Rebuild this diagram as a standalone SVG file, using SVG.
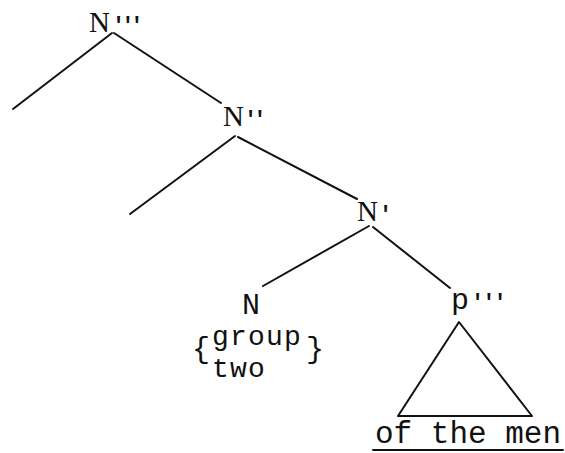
<svg xmlns="http://www.w3.org/2000/svg" width="565" height="453" viewBox="0 0 565 453">
<style>
.ser{font-family:"Liberation Serif","Times New Roman",serif;font-size:29px;fill:#111}
.mono{font-family:"Liberation Mono","Courier New",monospace;font-size:30px;fill:#111}
.sm{font-size:28px;letter-spacing:1.2px}
.pr{font-family:"Liberation Mono","Courier New",monospace;font-size:22px;font-weight:bold;fill:#111}
.ln{stroke:#111;stroke-width:2;fill:none;stroke-linecap:round;stroke-linejoin:round}
</style>
<rect width="565" height="453" fill="#fff"/>
<g id="connectors" class="ln">
<line x1="112" y1="33" x2="13" y2="109"/>
<line x1="114" y1="33" x2="221" y2="103"/>
<line x1="235" y1="136" x2="130" y2="214"/>
<line x1="238" y1="137" x2="357" y2="199"/>
<line x1="369" y1="226" x2="263" y2="286"/>
<line x1="373" y1="227" x2="450" y2="288"/>
<polygon points="459,322 398,416 532,416"/>
</g>
<g id="n3">
<text class="ser" x="89" y="32">N<tspan class="pr" dx="2" letter-spacing="-4">'''</tspan></text>
</g>
<g id="n2">
<text class="ser" x="223" y="126">N<tspan class="pr" dx="0" letter-spacing="-4">''</tspan></text>
</g>
<g id="n1">
<text class="ser" x="357" y="221">N<tspan class="pr" dx="1">'</tspan></text>
</g>
<g id="n0">
<text class="mono" x="242" y="314">N</text>
<text class="mono" x="192" y="358">{</text>
<text class="mono sm" x="212" y="345">group</text>
<text class="mono sm" x="212" y="377">two</text>
<text class="mono" x="306" y="358">}</text>
</g>
<g id="p3">
<text class="mono" x="451" y="309">p<tspan class="pr" dx="2" letter-spacing="-2">'''</tspan></text>
</g>
<g id="phrase">
<text class="mono" style="font-size:31px" x="375" y="443">of the men</text>
<line class="ln" x1="373" y1="450" x2="563" y2="450"/>
</g>
</svg>
